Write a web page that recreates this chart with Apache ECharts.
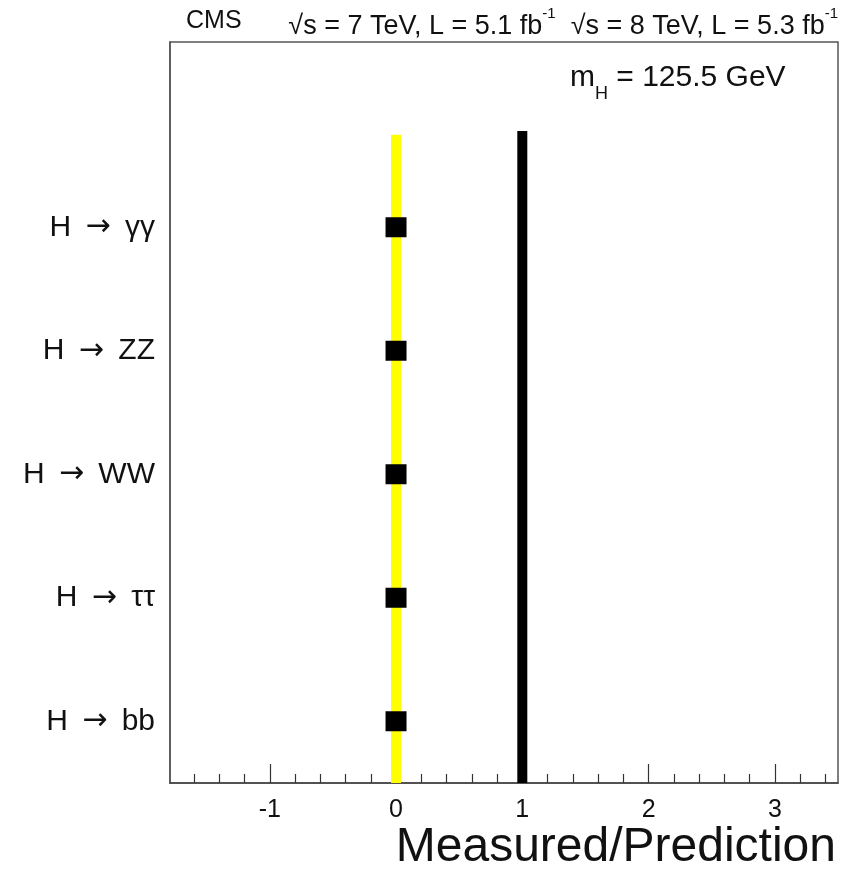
<!DOCTYPE html>
<html>
<head>
<meta charset="utf-8">
<script src="https://cdn.jsdelivr.net/npm/echarts@6/dist/echarts.min.js"></script>
<style>html,body{margin:0;padding:0;background:#fff;}#c{width:844px;height:874px;}</style>
</head>
<body>
<div id="c"></div>
<script>
// ---- data ----
const categories = ['bb', '\u03c4\u03c4', 'WW', 'ZZ', '\u03b3\u03b3']; // decay products, bottom to top (H → X)
const categoryPos = [0.5, 1.5, 2.5, 3.5, 4.5];
const measured = [0, 0, 0, 0, 0];
const bandCenter = 0;        // yellow band position
const bandTop = 5.25;
const smValue = 1;           // SM prediction line
const smTop = 5.28;
const xMajorTicks = [-1, 0, 1, 2, 3];
const xMinorTicks = [-1.6, -1.4, -1.2, -0.8, -0.6, -0.4, -0.2, 0.2, 0.4, 0.6, 0.8, 1.2, 1.4, 1.6, 1.8, 2.2, 2.4, 2.6, 2.8, 3.2, 3.4];
const xMin = -1.79, xMax = 3.5;
const yMin = 0, yMax = 6;

const FONT = "'Liberation Sans', Arial, 'DejaVu Sans', sans-serif";
const chart = echarts.init(document.getElementById('c'), null, {renderer: 'canvas'});

const points = measured.map((v, i) => [v, categoryPos[i]]);

chart.setOption({
  animation: false,
  backgroundColor: '#fff',
  grid: {left: 170, right: 6, top: 42, bottom: 91, show: true, borderColor: '#555', borderWidth: 1.5, backgroundColor: 'transparent'},
  xAxis: [
    {
      type: 'value', min: xMin, max: xMax, position: 'bottom',
      axisLine: {show: true, onZero: false, lineStyle: {color: '#444', width: 1.5}},
      axisTick: {show: true, inside: true, length: 19, customValues: xMajorTicks, lineStyle: {color: '#333', width: 1.2}},
      axisLabel: {show: true, customValues: xMajorTicks, margin: 15, fontFamily: FONT, fontSize: 25, color: '#111'},
      splitLine: {show: false}
    },
    {
      type: 'value', min: xMin, max: xMax, position: 'bottom',
      axisLine: {show: false, onZero: false},
      axisTick: {show: true, inside: true, length: 9, customValues: xMinorTicks, lineStyle: {color: '#333', width: 1.2}},
      axisLabel: {show: false},
      splitLine: {show: false}
    }
  ],
  yAxis: {
    type: 'value', min: yMin, max: yMax,
    axisLine: {show: true, onZero: false, lineStyle: {color: '#555', width: 1.5}},
    axisTick: {show: false},
    splitLine: {show: false},
    axisLabel: {
      show: true, customValues: categoryPos, margin: 15,
      formatter: function (v) {
        const i = categoryPos.indexOf(v);
        return i >= 0 ? '{h|H\u2009 }{a|\u2192}{h| \u2009' + categories[i] + '}' : '';
      },
      rich: {
        h: {fontFamily: FONT, fontSize: 30, color: '#111'},
        a: {fontFamily: "'DejaVu Sans', sans-serif", fontSize: 30, color: '#111'}
      }
    }
  },
  series: [
    {
      name: 'band', type: 'line', xAxisIndex: 0,
      data: [[bandCenter, yMin], [bandCenter, bandTop]],
      symbol: 'none', lineStyle: {color: '#ffff00', width: 10, cap: 'butt'}, z: 2
    },
    {
      name: 'SM', type: 'line', xAxisIndex: 0,
      data: [[smValue, yMin], [smValue, smTop]],
      symbol: 'none', lineStyle: {color: '#000', width: 10, cap: 'butt'}, z: 2
    },
    {
      name: 'measured', type: 'scatter', xAxisIndex: 0,
      data: points, symbol: 'rect', symbolSize: [21, 20],
      itemStyle: {color: '#000', opacity: 1}, z: 5
    }
  ],
  graphic: [
    {type: 'text', left: 186, top: 9, style: {text: 'CMS', font: "25px " + FONT, fill: '#111'}},
    {type: 'text', right: 6, top: 2, style: {
      text: '{n|\u221as = 7 TeV, L = 5.1 fb}{s|-1}{n|  \u221as = 8 TeV, L = 5.3 fb}{s|-1}',
      rich: {
        n: {fontFamily: FONT, fontSize: 27, fill: '#111', lineHeight: 38, verticalAlign: 'bottom'},
        s: {fontFamily: FONT, fontSize: 15, fill: '#111', lineHeight: 38, verticalAlign: 'top', padding: [4, 0, 0, 0]}
      }
    }},
    {type: 'text', left: 570, top: 63, style: {
      text: '{n|m}{b|H}{n| = 125.5 GeV}',
      rich: {
        n: {fontFamily: FONT, fontSize: 30, fill: '#111', lineHeight: 40, verticalAlign: 'top'},
        b: {fontFamily: FONT, fontSize: 18, fill: '#111', lineHeight: 18, verticalAlign: 'bottom'}
      }
    }},
    {type: 'text', right: 8, top: 824, style: {text: 'Measured/Prediction', font: "48px " + FONT, fill: '#111'}}
  ]
});
</script>
</body>
</html>
